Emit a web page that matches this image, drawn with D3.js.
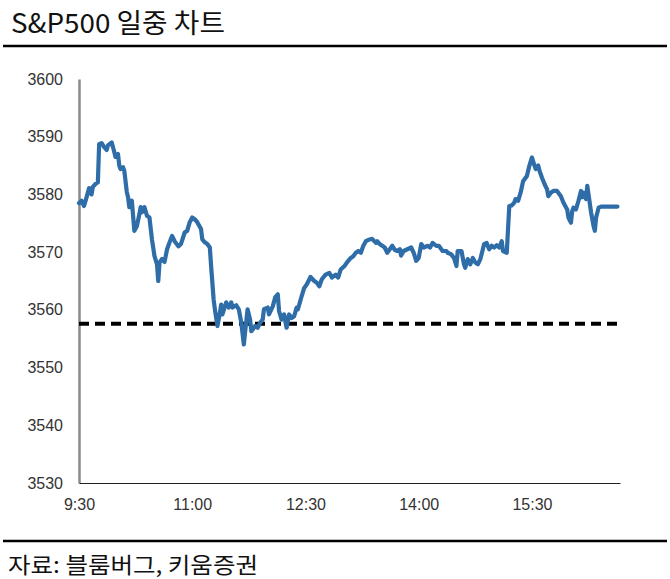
<!DOCTYPE html>
<html><head><meta charset="utf-8">
<script src="https://cdn.jsdelivr.net/npm/d3@7"></script>
<style>
html,body{margin:0;padding:0;background:#fff;}
svg{display:block;}
</style></head>
<body>
<svg id="chart" width="670" height="579"></svg>
<script>
// minutes after 9:30
const minutes = [0,2,4,6,8,10,11,13,15,16,18,20,22,23,26,28,29,31,32,33,35,36,38,39,40,42,43,44,46,48,49,50,52,54,56,58,60,62,63,64,66,68,70,72,74,76,79,81,84,86,88,90,92,94,97,98,100,102,104,105,107,108,110,112,113,114,117,119,121,122,125,127,129,131,132,134,136,137,140,142,144,146,147,150,151,154,156,158,159,161,163,165,167,169,171,173,174,177,179,181,184,187,189,191,193,196,199,201,204,206,208,211,214,216,218,220,222,224,226,228,231,233,236,237,239,241,243,245,247,249,251,253,255,256,258,261,264,266,268,270,272,274,277,279,281,284,286,289,292,293,296,298,300,301,304,306,307,309,311,313,315,317,319,321,322,324,326,328,330,332,334,336,337,340,342,344,346,347,349,351,353,355,356,358,360,362,363,365,366,368,370,372,373,375,377,380,381,383,385,388,389,391,392,393,395,397,399,400,401,403,404,405,407,409,410,411,413,415,420,428];
const prices = [3578.5,3578.9,3578.0,3579.5,3581.1,3580.0,3581.3,3581.8,3582.1,3588.7,3588.9,3588.2,3587.7,3588.5,3589.0,3587.4,3586.5,3587.0,3585.0,3584.4,3584.7,3584.1,3580.4,3579.5,3577.8,3578.9,3576.3,3573.7,3574.5,3576.6,3577.8,3576.9,3577.8,3576.3,3576.0,3572.2,3569.3,3567.9,3565.0,3568.2,3568.8,3568.3,3570.5,3571.7,3572.8,3571.9,3571.0,3571.4,3573.4,3573.7,3575.2,3576.0,3575.7,3575.2,3574.0,3572.2,3571.7,3571.4,3570.8,3567.6,3561.8,3560.1,3557.2,3559.5,3560.9,3559.2,3561.3,3560.4,3561.3,3560.4,3560.8,3560.1,3557.8,3554.0,3556.1,3560.1,3558.3,3556.3,3557.2,3556.9,3557.8,3558.3,3560.1,3560.4,3559.2,3560.6,3562.2,3562.7,3559.8,3558.3,3559.2,3556.9,3559.2,3558.6,3558.9,3560.4,3560.1,3562.4,3563.8,3564.4,3565.7,3565.0,3564.7,3564.1,3565.3,3566.1,3566.4,3565.6,3566.1,3565.6,3567.0,3567.6,3568.5,3569.0,3569.3,3569.9,3570.2,3569.9,3571.1,3571.9,3572.2,3572.3,3571.6,3571.9,3571.4,3571.1,3570.8,3569.9,3570.5,3571.1,3570.4,3570.2,3570.5,3569.4,3570.2,3570.5,3570.8,3569.9,3568.5,3569.0,3571.4,3570.8,3571.1,3570.8,3571.6,3571.1,3571.1,3570.2,3570.2,3569.9,3569.6,3569.0,3567.6,3570.2,3570.2,3567.9,3567.3,3568.8,3567.9,3569.0,3568.2,3567.9,3568.8,3570.5,3571.4,3571.6,3570.5,3571.1,3570.8,3571.2,3570.8,3571.9,3570.2,3569.9,3578.0,3578.1,3578.6,3579.2,3578.9,3580.3,3582.3,3582.9,3583.2,3585.0,3586.4,3585.0,3584.4,3585.0,3584.1,3582.9,3581.8,3580.9,3579.7,3580.3,3580.6,3580.6,3580.3,3579.7,3578.6,3577.4,3576.0,3575.1,3577.1,3577.7,3577.4,3578.9,3580.6,3579.5,3580.3,3579.2,3581.5,3580.0,3576.9,3574.5,3573.7,3576.0,3577.7,3577.9,3577.9,3577.9];
const refLevel = 3557.6;
const yTicks = [3530,3540,3550,3560,3570,3580,3590,3600];
const xTickValues = [0,90,180,270,360];
const xTickLabels = ["9:30","11:00","12:30","14:00","15:30"];
const titleText = "S&P500 일중 차트";
const sourceText = "자료: 블룸버그, 키움증권";

(function(){
const data = minutes.map((m,i)=>({m, v: prices[i]}));
const svg = d3.select("#chart");
const pL = 79, pR = 620, pT = 79, pB = 483;
const x = d3.scaleLinear().domain([0,430]).range([pL,pR]);
const y = d3.scaleLinear().domain([3530,3600]).range([pB,pT]);

const korFont = "'Noto Sans CJK KR', sans-serif";
svg.append("text").attr("x",11).attr("y",33)
  .attr("font-family",korFont).attr("font-size",27).attr("font-weight",400)
  .attr("textLength",214).attr("lengthAdjust","spacingAndGlyphs")
  .attr("fill","#111").text(titleText);
svg.append("line").attr("x1",3).attr("x2",667).attr("y1",46).attr("y2",46)
  .attr("stroke","#000").attr("stroke-width",2.5);
svg.append("line").attr("x1",3).attr("x2",667).attr("y1",541).attr("y2",541)
  .attr("stroke","#000").attr("stroke-width",2.5);
svg.append("text").attr("x",8).attr("y",573)
  .attr("font-family",korFont).attr("font-size",22).attr("font-weight",400)
  .attr("textLength",250).attr("lengthAdjust","spacingAndGlyphs")
  .attr("fill","#111").text(sourceText);

const yAxis = d3.axisLeft(y).tickValues(yTicks).tickSize(0).tickPadding(16).tickFormat(d3.format("d"));
const gy = svg.append("g").attr("transform",`translate(${pL},0)`).call(yAxis);
gy.select(".domain").attr("stroke","#8a8a8a").attr("stroke-width",2.5);
gy.selectAll("text").attr("font-family","'Liberation Sans', Arial, sans-serif").attr("font-size",16).attr("fill","#333");

const xAxis = d3.axisBottom(x).tickValues(xTickValues).tickSize(0).tickPadding(16)
  .tickFormat((d,i)=>xTickLabels[i]);
const gx = svg.append("g").attr("transform",`translate(0,${pB})`).call(xAxis);
gx.select(".domain").attr("stroke","#222").attr("stroke-width",1.2);
gx.selectAll("text").attr("font-family","'Liberation Sans', Arial, sans-serif").attr("font-size",16).attr("fill","#333");

svg.append("line").attr("x1",x(0)).attr("x2",x(430)).attr("y1",y(refLevel)).attr("y2",y(refLevel))
  .attr("stroke","#000").attr("stroke-width",4).attr("stroke-dasharray","10,6");

svg.append("path").datum(data)
  .attr("fill","none").attr("stroke","#2e6da8").attr("stroke-width",4.2)
  .attr("stroke-linejoin","round").attr("stroke-linecap","round")
  .attr("d", d3.line().x(d=>x(d.m)).y(d=>y(d.v)));
})();
</script>
</body></html>
